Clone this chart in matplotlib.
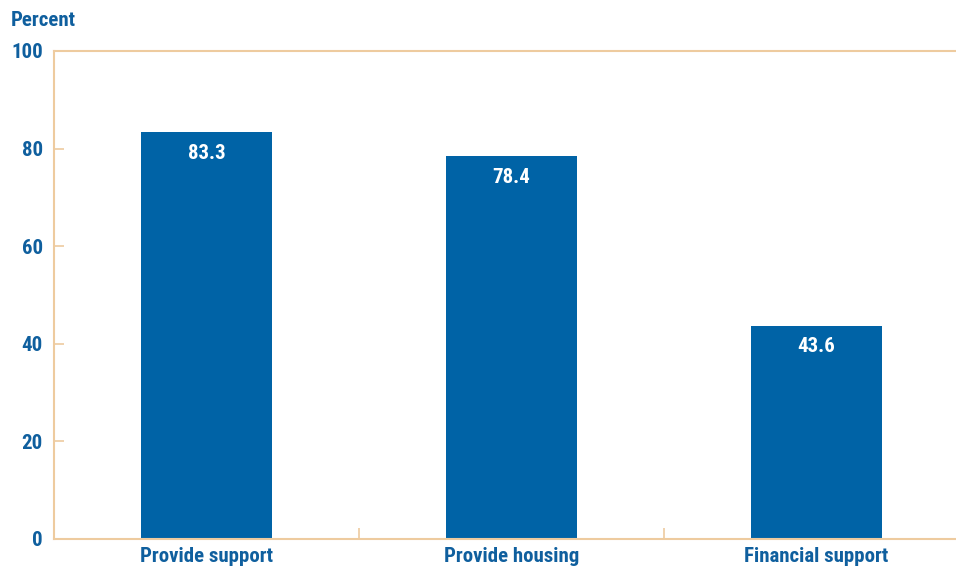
import numpy as np
import matplotlib.pyplot as plt

categories = ["Provide support", "Provide housing", "Financial support"]
values = [83.3, 78.4, 43.6]
yticks = [0, 20, 40, 60, 80, 100]

blue = "#0063a6"
text_blue = "#0f5f9e"
tan = "#eecb9f"

plt.rcParams['font.family'] = ['Roboto Condensed', 'DejaVu Sans']

fig = plt.figure(figsize=(9.56, 5.8), dpi=100)
# axes left edge at 54px, bottom at 539px, top at 51px
ax = fig.add_axes([54/956, (580-539)/580, (956-54)/956, (539-51)/580])

x = np.arange(len(categories))
bars = ax.bar(x, values, width=0.43, color=blue, zorder=2)

for xi, v in zip(x, values):
    ax.text(xi, v - 2.3, f"{v:.1f}", ha='center', va='top', color='white',
            fontsize=15, fontweight='bold')

ax.set_xlim(-0.5, -0.5 + 902/305)
ax.set_ylim(0, 100)

for s in ['left', 'bottom', 'top']:
    ax.spines[s].set_color(tan)
    ax.spines[s].set_linewidth(1.5)
ax.spines['right'].set_visible(False)

ax.set_yticks(yticks)
ax.set_yticklabels([str(t) for t in yticks], color=text_blue, fontsize=15, fontweight='bold')
ax.tick_params(axis='y', direction='in', length=7, width=1.2, color=tan, pad=8)

# category labels at centres, tick marks at boundaries
ax.set_xticks([0.5, 1.5])
ax.set_xticklabels(['', ''])
ax.set_xticks(x, minor=True)
ax.set_xticklabels(categories, minor=True, color=text_blue, fontsize=15, fontweight='bold')
ax.tick_params(axis='x', which='major', direction='in', length=8, width=1.2, color=tan)
ax.tick_params(axis='x', which='minor', length=0, pad=6)

fig.text(11/956, 1 - 20/580, "Percent", color=text_blue, fontsize=15,
         fontweight='bold', va='center', ha='left')

fig.savefig("out.png", dpi=100)
